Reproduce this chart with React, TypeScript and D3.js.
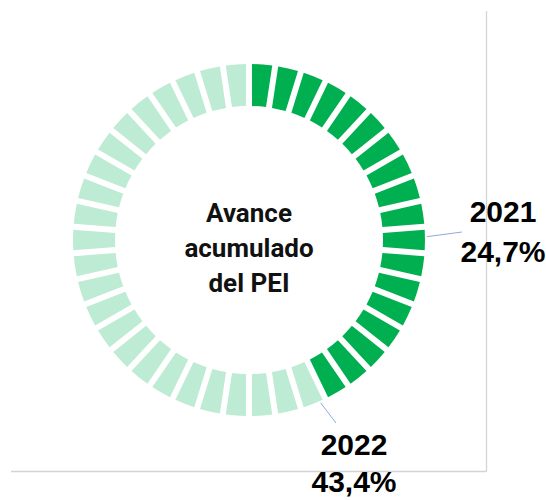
import React from "react";
import * as d3 from "d3";

const SEGMENT_COUNT = 42;
const years = ["2021", "2022"];
const progressValues = [24.7, 43.4];
const progressLabels = ["24,7%", "43,4%"];
const centerLines = ["Avance", "acumulado", "del PEI"];

const W = 546;
const H = 500;
const CX = 249;
const CY = 240;
const R_OUT = 176;
const R_IN = 134;
const DARK = "#00B050";
const LIGHT = "#BEEBD3";

export default function App() {
  const maxProgress = d3.max(progressValues) as number;
  const darkCount = Math.round((maxProgress / 100) * SEGMENT_COUNT);
  const segs = d3.range(SEGMENT_COUNT);
  const pie = d3
    .pie<number>()
    .value(() => 1)
    .sort(null)
    .startAngle(0)
    .endAngle(2 * Math.PI);
  const arcs = pie(segs);
  const arc = d3
    .arc<d3.PieArcDatum<number>>()
    .innerRadius(R_IN)
    .outerRadius(R_OUT)
    .padRadius(155)
    .padAngle(6 / 155);

  const angle = d3.scaleLinear().domain([0, 100]).range([0, 2 * Math.PI]);
  const polar = (a: number, r: number) => [CX + r * Math.sin(a), CY - r * Math.cos(a)];

  const labelPos = [
    { lx: 462, ly: 232, tx: 503, ty1: 222, ty2: 262 },
    { lx: 336, ly: 423, tx: 354, ty1: 455, ty2: 492 },
  ];

  return (
    <svg width={W} height={H} style={{ display: "block", position: "absolute", left: 0, top: 0 }}>
      <rect width={W} height={H} fill="#fff" />
      <line x1={486.5} y1={11} x2={486.5} y2={471.5} stroke="#D4D4D4" strokeWidth={1.3} />
      <line x1={11} y1={471.5} x2={486.5} y2={471.5} stroke="#D4D4D4" strokeWidth={1.3} />
      <g transform={`translate(${CX},${CY})`}>
        {arcs.map((a, i) => (
          <path key={i} d={arc(a) as string} fill={i < darkCount ? DARK : LIGHT} />
        ))}
      </g>
      {progressValues.map((v, i) => {
        const [x1, y1] = polar(angle(v), R_OUT + 2);
        const p = labelPos[i];
        return (
          <g key={years[i]}>
            <line x1={x1} y1={y1} x2={p.lx} y2={p.ly} stroke="#8FAADC" strokeWidth={1} />
            <text
              x={p.tx}
              y={p.ty1}
              textAnchor="middle"
              fontFamily="'Liberation Sans', Arial, sans-serif"
              fontWeight="bold"
              fontSize={30}
              fill="#000"
            >
              {years[i]}
            </text>
            <text
              x={p.tx}
              y={p.ty2}
              textAnchor="middle"
              fontFamily="'Liberation Sans', Arial, sans-serif"
              fontWeight="bold"
              fontSize={30}
              fill="#000"
            >
              {progressLabels[i]}
            </text>
          </g>
        );
      })}
      {centerLines.map((t, i) => (
        <text
          key={t}
          x={CX}
          y={222 + i * 35}
          textAnchor="middle"
          fontFamily="Roboto, 'Liberation Sans', sans-serif"
          fontWeight={700}
          fontSize={26}
          fill="#111"
        >
          {t}
        </text>
      ))}
    </svg>
  );
}
